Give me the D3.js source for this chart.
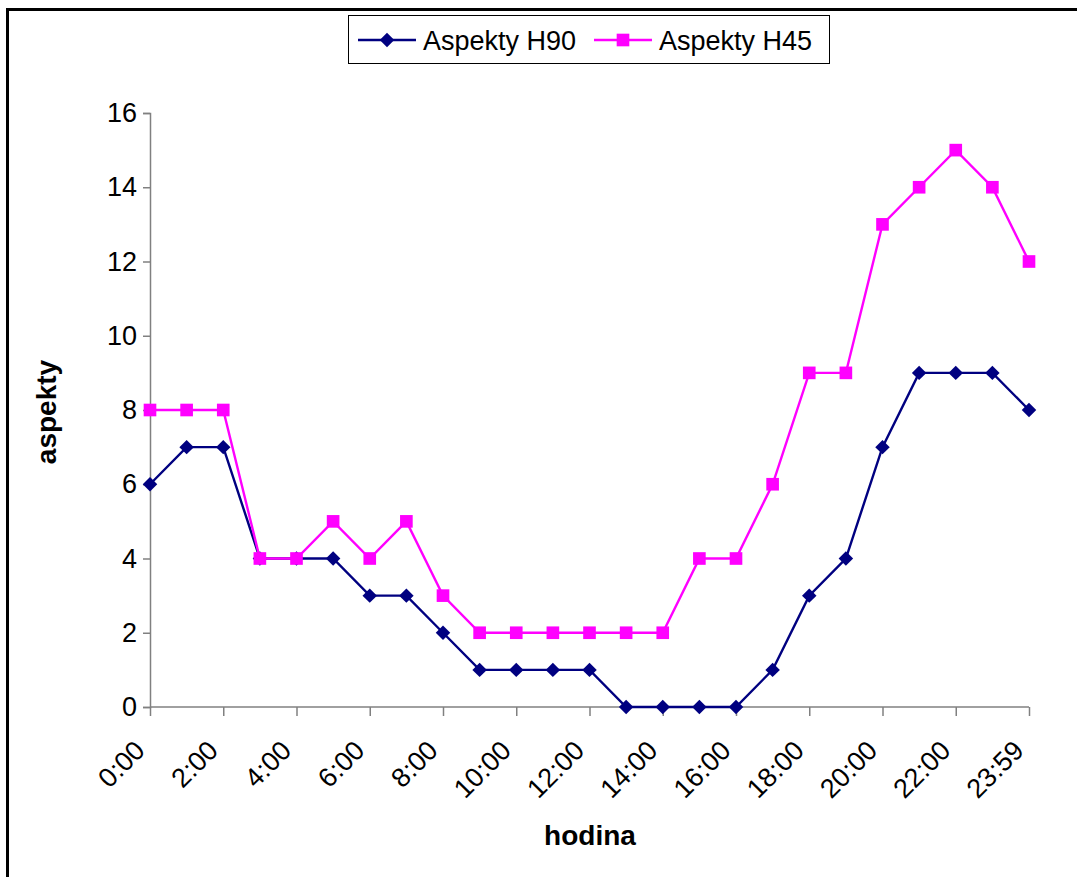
<!DOCTYPE html>
<html><head><meta charset="utf-8">
<script src="https://cdn.jsdelivr.net/npm/d3@7"></script>
<style>body{margin:0;background:#fff}svg{display:block}text{font-family:Arial,"Liberation Sans",sans-serif}</style>
</head><body>
<script>
const categories = ["0:00","1:00","2:00","3:00","4:00","5:00","6:00","7:00","8:00","9:00","10:00","11:00","12:00","13:00","14:00","15:00","16:00","17:00","18:00","19:00","20:00","21:00","22:00","23:00","23:59"];
const h90 = [6,7,7,4,4,4,3,3,2,1,1,1,1,0,0,0,0,1,3,4,7,9,9,9,8];
const h45 = [8,8,8,4,4,5,4,5,3,2,2,2,2,2,2,4,4,6,9,9,13,14,15,14,12];
const yTicks = [0,2,4,6,8,10,12,14,16];
const seriesNames = ["Aspekty H90","Aspekty H45"];

const W=1077,H=877, FONT="Arial,'Liberation Sans',sans-serif", FS=27;
const svg=d3.select("body").append("svg").attr("width",W).attr("height",H);
svg.append("rect").attr("width",W).attr("height",H).attr("fill","#fff");
svg.append("path").attr("d",`M7.5,${H+5} L7.5,9.5 L${W+5},9.5`).attr("fill","none").attr("stroke","#000").attr("stroke-width",3);

const x=d3.scalePoint().domain(categories).range([150,1029]);
const y=d3.scaleLinear().domain([0,16]).range([707,113]);
const axisColor="#808080";

const ya=svg.append("g").attr("transform","translate(150,0)")
  .call(d3.axisLeft(y).tickValues(yTicks).tickSize(7).tickPadding(6));
ya.select(".domain").attr("stroke",axisColor).attr("stroke-width",1.5);
ya.selectAll(".tick line").attr("stroke",axisColor).attr("stroke-width",1.5);
ya.selectAll(".tick text").attr("font-size",FS).attr("fill","#000").attr("font-family",FONT);

const labelCats=categories.filter((c,i)=>i%2===0);
const xa=svg.append("g").attr("transform","translate(0,707)")
  .call(d3.axisBottom(x).tickValues(labelCats).tickSize(9).tickSizeOuter(0));
xa.select(".domain").attr("stroke",axisColor).attr("stroke-width",1.5).attr("d","M150,0H1029");
xa.selectAll(".tick line").attr("stroke",axisColor).attr("stroke-width",1.5);
xa.selectAll(".tick text").attr("font-size",FS).attr("fill","#000").attr("font-family",FONT)
  .attr("text-anchor","end").attr("dy",0).attr("y",0)
  .attr("transform","translate(-4,45) rotate(-45)");

svg.append("text").attr("x",590).attr("y",845).attr("text-anchor","middle").attr("font-size",28).attr("font-weight","bold").text("hodina");
svg.append("text").attr("transform","translate(56,412) rotate(-90)").attr("text-anchor","middle").attr("font-size",28).attr("font-weight","bold").text("aspekty");

const diamond={draw(ctx,size){const r=Math.sqrt(size/2);ctx.moveTo(0,-r);ctx.lineTo(r,0);ctx.lineTo(0,r);ctx.lineTo(-r,0);ctx.closePath();}};
const series=[{name:seriesNames[0],vals:h90,color:"#000080",shape:diamond,size:105},
              {name:seriesNames[1],vals:h45,color:"#FF00FF",shape:d3.symbolSquare,size:160}];
const line=d3.line().x((d,i)=>x(categories[i])).y(d=>y(d));
series.forEach(s=>{
  svg.append("path").datum(s.vals).attr("d",line).attr("fill","none").attr("stroke",s.color).attr("stroke-width",2.4);
  svg.selectAll(null).data(s.vals).enter().append("path")
    .attr("transform",(d,i)=>`translate(${x(categories[i])},${y(d)})`)
    .attr("d",d3.symbol().type(s.shape).size(s.size)).attr("fill",s.color);
});

const lg=svg.append("g");
lg.append("rect").attr("x",348.5).attr("y",15.5).attr("width",481).attr("height",48).attr("fill","#fff").attr("stroke","#000").attr("stroke-width",1);
const lx=[358,594];
series.forEach((s,i)=>{
  const g=lg.append("g").attr("transform",`translate(${lx[i]},40)`);
  g.append("line").attr("x1",0).attr("x2",58).attr("stroke",s.color).attr("stroke-width",2.4);
  g.append("path").attr("transform","translate(29,0)").attr("d",d3.symbol().type(s.shape).size(s.size)).attr("fill",s.color);
  g.append("text").attr("x",65).attr("y",10).attr("font-size",FS).text(s.name);
});
</script>
</body></html>
